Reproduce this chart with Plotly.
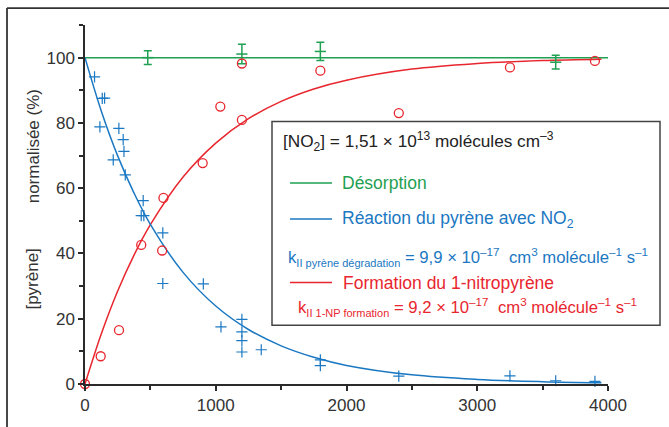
import plotly.graph_objects as go

# ---------------- data ----------------
# Desorption (green) : reference line and points with error bars
desorp_line_t = [0, 4000]
desorp_line_y = [100, 100]
desorp_t = [480, 1200, 1800, 3600]
desorp_y = [100.0, 101.1, 101.9, 98.6]
desorp_err = [2.1, 3.0, 2.8, 2.1]

# Pyrene degradation (blue crosses)
pyr_t = [73, 114, 132, 150, 216, 259, 292, 298, 308, 430, 445, 450, 595, 595,
         905, 1040, 1200, 1200, 1200, 1200, 1348, 1800, 1800, 2400, 3250, 3600, 3900]
pyr_y = [94.1, 78.8, 87.5, 87.6, 68.7, 78.3, 74.9, 71.3, 64.1, 51.6, 56.2, 51.6, 46.3, 30.8,
         30.7, 17.5, 19.8, 16.0, 13.3, 9.8, 10.5, 7.4, 5.6, 2.4, 2.5, 1.0, 0.8]

# 1-nitropyrene formation (red circles)
np_t = [0, 120, 260, 430, 590, 600, 900, 1035, 1200, 1200, 1800, 2400, 3250, 3900]
np_y = [0, 8.5, 16.5, 42.6, 40.9, 57.0, 67.7, 85.0, 98.2, 80.9, 96.0, 83.0, 97.0, 99.0]

# Fitted curves
fit_t = [0, 125, 250, 375, 500, 750, 1000, 1250, 1500, 1750, 2000, 2500, 3000, 3500, 3950]
pyr_fit = [100, 83.6, 69.9, 58.5, 48.9, 34.2, 23.9, 16.7, 11.7, 8.2, 5.7, 2.8, 1.4, 0.7, 0.35]
np_fit = [0, 15.4, 28.5, 39.5, 48.8, 63.4, 73.8, 81.3, 86.6, 90.4, 93.1, 96.5, 98.2, 99.1, 99.5]

x_ticks = [0, 1000, 2000, 3000, 4000]
y_ticks = [0, 20, 40, 60, 80, 100]

# ---------------- styling ----------------
GREEN = "#1fa052"
BLUE = "#1b78c2"
RED = "#e8262e"
AXC = "#2a2a2a"
FONT = "Liberation Sans, Arial, sans-serif"

W, H = 669, 427
L, R, T, B = 85, 61, 25, 41
PW, PH = W - L - R, H - T - B


def px(xp):
    return (xp - L) / PW


def py(yp):
    return (H - B - yp) / PH


fig = go.Figure()

fig.add_trace(go.Scatter(x=desorp_line_t, y=desorp_line_y, mode="lines",
                         line=dict(color=GREEN, width=1.5), cliponaxis=False))
fig.add_trace(go.Scatter(x=fit_t, y=np_fit, mode="lines", line_shape="spline",
                         line=dict(color=RED, width=1.5), cliponaxis=False))
fig.add_trace(go.Scatter(x=fit_t, y=pyr_fit, mode="lines", line_shape="spline",
                         line=dict(color=BLUE, width=1.5), cliponaxis=False))
fig.add_trace(go.Scatter(x=desorp_t, y=desorp_y, mode="markers",
                         marker=dict(symbol="line-ew", size=8, color=GREEN,
                                     line=dict(color=GREEN, width=1.5)),
                         error_y=dict(type="data", array=desorp_err, color=GREEN,
                                      thickness=1.5, width=4),
                         cliponaxis=False))
fig.add_trace(go.Scatter(x=pyr_t, y=pyr_y, mode="markers",
                         marker=dict(symbol="cross-thin", size=8, color=BLUE,
                                     line=dict(color=BLUE, width=1.2)),
                         cliponaxis=False))
fig.add_trace(go.Scatter(x=np_t, y=np_y, mode="markers",
                         marker=dict(symbol="circle-open", size=9, color=RED,
                                     line=dict(color=RED, width=1.3)),
                         cliponaxis=False))

axis_common = dict(showgrid=False, zeroline=False, showline=True, linecolor=AXC,
                   linewidth=1.5, ticks="outside", ticklen=5, tickwidth=1.5,
                   tickcolor=AXC, tickfont=dict(family=FONT, size=17, color="#333"))

fig.update_xaxes(range=[0, 4000], tickvals=x_ticks,
                 minor=dict(dtick=500, ticks="outside", ticklen=4, tickwidth=1.5,
                            tickcolor=AXC),
                 **axis_common)
fig.update_yaxes(range=[0, 110], tickvals=y_ticks,
                 minor=dict(dtick=10, ticks="outside", ticklen=4, tickwidth=1.5,
                            tickcolor=AXC),
                 **axis_common)

shapes = []
# outer frame (left and top edges visible)
shapes.append(dict(type="line", xref="paper", yref="paper", x0=px(7), x1=px(7),
                   y0=py(8), y1=py(440), line=dict(color="#333", width=1.8)))
shapes.append(dict(type="line", xref="paper", yref="paper", x0=px(7), x1=px(690),
                   y0=py(8), y1=py(8), line=dict(color="#333", width=1.8)))
# legend box
shapes.append(dict(type="rect", xref="paper", yref="paper", x0=px(272), x1=px(660),
                   y0=py(122), y1=py(327), fillcolor="white",
                   line=dict(color="#444", width=1.5), layer="above"))
for col, yy in [(GREEN, 184), (BLUE, 220), (RED, 284)]:
    shapes.append(dict(type="line", xref="paper", yref="paper", x0=px(290), x1=px(332),
                       y0=py(yy), y1=py(yy), line=dict(color=col, width=1.5),
                       layer="above"))

annotations = []


def txt(text, x, y, color, size=17, anchor="left", angle=0):
    annotations.append(dict(text=text, xref="paper", yref="paper", x=px(x), y=py(y),
                            xanchor=anchor, yanchor="middle", showarrow=False,
                            textangle=angle,
                            font=dict(family=FONT, size=size, color=color)))


txt("[NO<sub>2</sub>] = 1,51 × 10<sup>13</sup> molécules cm<sup>–3</sup>", 281, 142, "#222", 17.2)
txt("Désorption", 340, 184, GREEN, 17.5)
txt("Réaction du pyrène avec NO<sub>2</sub>", 340, 221, BLUE, 17.5)
txt("k<sub><span style='font-size:11px'>II pyrène dégradation</span></sub> = 9,9 × 10<sup>–17</sup>  cm<sup>3</sup> molécule<sup>–1</sup> s<sup>–1</sup>",
    286, 258, BLUE, 16.7)
txt("Formation du 1-nitropyrène", 341, 284, RED, 17.5)
txt("k<sub><span style='font-size:11px'>II 1-NP formation</span></sub> = 9,2 × 10<sup>–17</sup>  cm<sup>3</sup> molécule<sup>–1</sup> s<sup>–1</sup>",
    296, 309, RED, 16.7)
# y-axis title (two parts)
txt("normalisée (%)", 33, 147, "#333", 17, anchor="center", angle=-90)
txt("[pyrène]", 33, 281, "#333", 17, anchor="center", angle=-90)

fig.update_layout(width=W, height=H, margin=dict(l=L, r=R, t=T, b=B),
                  plot_bgcolor="white", paper_bgcolor="white", showlegend=False,
                  shapes=shapes, annotations=annotations,
                  font=dict(family=FONT))

fig.write_html("out.html", config={"displayModeBar": False},
               post_script="document.body.style.margin='0px';document.body.style.overflow='hidden';")
